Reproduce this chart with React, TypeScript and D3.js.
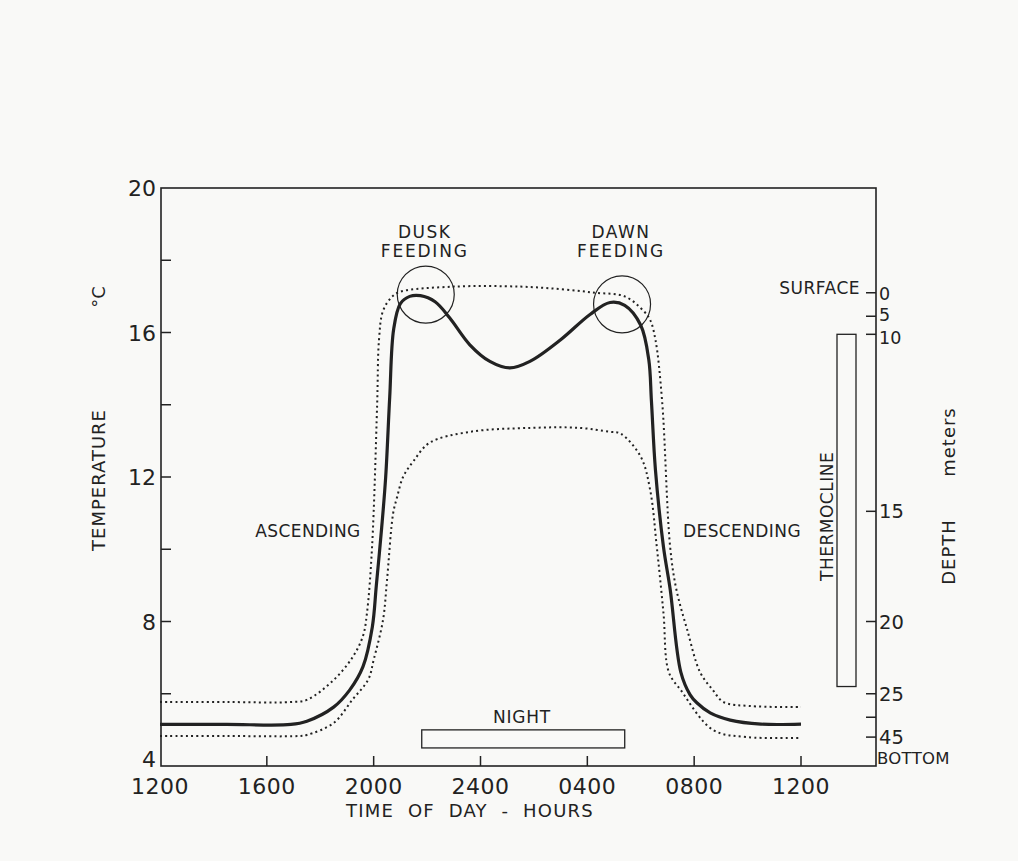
import React from "react";
import * as d3 from "d3";

// ---- data (hours counted from 12 = noon, 24 = midnight, 36 = next noon) ----
const hourTicks = [12, 16, 20, 24, 28, 32, 36];
const hourTickLabels = ["1200", "1600", "2000", "2400", "0400", "0800", "1200"];
const tempMajorTicks = [4, 8, 12, 16, 20];
const tempMinorTicks = [6, 10, 14, 18];

// depth (m) -> temperature (°C) correspondence used by the right axis
const depthValues = [0, 5, 10, 15, 20, 25, 35, 45];
const depthTemps = [17.1, 16.45, 15.95, 11.05, 8.0, 6.0, 5.35, 4.8];
const depthLabels = ["0", "5", "10", "15", "20", "25", "", "45"];
const thermocline = [10, 24.5];

// mean temperature at fish depth (solid)
const meanCurve: [number, number][] = [
  [12, 5.15], [14.5, 5.15], [16.9, 5.15], [17.5, 5.24], [18.5, 5.63], [19.1, 6.1], [19.6, 6.75],
  [19.95, 7.85], [20.1, 9.0], [20.3, 10.6], [20.45, 12.0], [20.6, 14.2], [20.75, 16.1],
  [21.0, 16.8], [21.35, 17.0], [21.75, 17.02], [22.3, 16.85], [22.85, 16.4], [23.6, 15.66],
  [24.35, 15.2], [25.1, 15.02], [25.85, 15.2], [27.0, 15.8], [28.1, 16.5], [28.85, 16.83],
  [29.4, 16.75], [30.0, 16.2], [30.3, 15.25], [30.4, 14.1], [30.55, 12.2], [30.85, 10.07],
  [31.1, 8.9], [31.5, 6.6], [31.85, 5.97], [32.1, 5.75], [32.6, 5.47], [33.35, 5.27],
  [34.5, 5.16], [36, 5.16],
];

// warm envelope (upper dotted)
const warmEdge: [number, number][] = [
  [12, 5.77], [14.5, 5.77], [16.9, 5.77], [17.5, 5.83], [18.5, 6.38], [19.2, 7.0], [19.6, 7.6],
  [19.75, 8.24], [19.94, 10.07], [20.13, 14.0], [20.2, 15.8], [20.35, 16.6], [20.7, 17.0],
  [21.0, 17.13], [23.0, 17.27], [25.5, 17.27], [27.0, 17.2], [28.3, 17.1], [29.4, 17.0],
  [30.1, 16.6], [30.35, 16.35], [30.55, 15.8], [30.8, 14.1], [31.1, 10.07], [31.33, 8.9],
  [31.74, 7.77], [32.22, 6.6], [32.7, 6.1], [33.1, 5.77], [34.1, 5.66], [36, 5.63],
];

// cold envelope (lower dotted)
const coldEdge: [number, number][] = [
  [12, 4.83], [14.5, 4.83], [17.2, 4.83], [17.5, 4.86], [18.5, 5.19], [19.2, 5.83], [19.8, 6.4],
  [20.0, 6.94], [20.35, 8.04], [20.5, 9.15], [20.73, 11.0], [20.88, 11.45], [21.1, 12.0],
  [21.5, 12.45], [22.1, 12.95], [23.6, 13.25], [25.9, 13.36], [27.7, 13.36], [28.85, 13.25],
  [29.25, 13.2], [30.0, 12.56], [30.35, 11.65], [30.6, 10.07], [30.85, 8.24], [31.05, 6.6],
  [31.5, 6.1], [32.7, 5.0], [34.0, 4.8], [36, 4.78],
];

const feedingPoints = [
  { label: ["DUSK", "FEEDING"], hour: 21.95, temp: 17.05 },
  { label: ["DAWN", "FEEDING"], hour: 29.3, temp: 16.78 },
];
const nightSpan = [21.8, 29.4];
const nightTemps = [4.5, 5.0];

// ---- layout ----
const W = 1018;
const H = 861;
const frameLeft = 161;
const frameRight = 876;
const frameTop = 188;
const frameBottom = 766;
const ink = "#222";
const font = "'DejaVu Sans', 'Liberation Sans', sans-serif";
const depthLabelShift = [7, 5, 10, 7, 7, 7, 7, 7];

export default function App() {
  const x = d3.scaleLinear().domain([12, 36]).range([160, 801]);
  const y = d3.scaleLinear().domain([4, 20]).range([frameBottom, frameTop]);
  const depthY = d3
    .scaleLinear()
    .domain(depthValues)
    .range(depthTemps.map((t) => y(t)));

  const line = d3
    .line<[number, number]>()
    .x((d) => x(d[0]))
    .y((d) => y(d[1]))
    .curve(d3.curveCatmullRom.alpha(0.5));

  const tick = 10;

  return (
    <svg
      width={W}
      height={H}
      style={{ position: "absolute", left: 0, top: 0, display: "block", background: "#f9f9f7" }}
      fontFamily={font}
    >
      {/* frame */}
      <rect
        x={frameLeft}
        y={frameTop}
        width={frameRight - frameLeft}
        height={frameBottom - frameTop}
        fill="none"
        stroke={ink}
        strokeWidth={1.6}
      />

      {/* left axis ticks */}
      {tempMajorTicks.map((t) => (
        <g key={"tm" + t}>
          {t !== 4 && t !== 20 && (
            <line x1={frameLeft} x2={frameLeft + tick} y1={y(t)} y2={y(t)} stroke={ink} strokeWidth={1.5} />
          )}
          <text
            x={frameLeft - 5}
            y={t === 4 ? y(t) + 1 : y(t) + 8}
            textAnchor="end"
            fontSize={22}
            fill={ink}
          >
            {t}
          </text>
        </g>
      ))}
      {tempMinorTicks.map((t) => (
        <line key={"tn" + t} x1={frameLeft} x2={frameLeft + tick} y1={y(t)} y2={y(t)} stroke={ink} strokeWidth={1.5} />
      ))}

      {/* bottom axis ticks */}
      {hourTicks.map((h, i) => (
        <g key={"h" + h}>
          {i > 0 && (
            <line x1={x(h)} x2={x(h)} y1={frameBottom} y2={frameBottom - tick} stroke={ink} strokeWidth={1.5} />
          )}
          <text x={x(h)} y={frameBottom + 28} textAnchor="middle" fontSize={22} fill={ink} letterSpacing={0.5}>
            {hourTickLabels[i]}
          </text>
        </g>
      ))}

      {/* right depth axis */}
      {depthValues.map((d, i) => (
        <g key={"d" + d}>
          <line
            x1={frameRight}
            x2={frameRight - tick}
            y1={depthY(d)}
            y2={depthY(d)}
            stroke={ink}
            strokeWidth={1.5}
          />
          {depthLabels[i] && (
            <text x={frameRight + 3} y={depthY(d) + depthLabelShift[i]} fontSize={i < 3 ? 17.5 : 19.5} fill={ink}>
              {depthLabels[i]}
            </text>
          )}
        </g>
      ))}
      <text x={frameRight - 16} y={depthY(0) + 1} textAnchor="end" fontSize={17} fill={ink} letterSpacing={0.5}>
        SURFACE
      </text>
      <text x={frameRight + 1} y={frameBottom - 2} fontSize={16.5} fill={ink} letterSpacing={0.3}>
        BOTTOM
      </text>

      {/* thermocline bar */}
      <rect
        x={837}
        y={depthY(thermocline[0])}
        width={19}
        height={depthY(thermocline[1]) - depthY(thermocline[0])}
        fill="none"
        stroke={ink}
        strokeWidth={1.3}
      />
      <text
        transform={`translate(833, ${(depthY(thermocline[0]) + depthY(thermocline[1])) / 2 + 6}) rotate(-90)`}
        textAnchor="middle"
        fontSize={17}
        fill={ink}
        letterSpacing={0.5}
      >
        THERMOCLINE
      </text>

      {/* axis titles */}
      <text transform="translate(105, 480) rotate(-90)" textAnchor="middle" fontSize={18} fill={ink} letterSpacing={1}>
        TEMPERATURE
      </text>
      <text transform="translate(105, 297) rotate(-90)" textAnchor="middle" fontSize={18} fill={ink}>
        °C
      </text>
      <text transform="translate(955, 552) rotate(-90)" textAnchor="middle" fontSize={18} fill={ink} letterSpacing={1}>
        DEPTH
      </text>
      <text transform="translate(955, 442) rotate(-90)" textAnchor="middle" fontSize={18} fill={ink} letterSpacing={1}>
        meters
      </text>
      <text x={470} y={817} textAnchor="middle" fontSize={18} fill={ink} letterSpacing={1.2} xmlSpace="preserve">
        TIME  OF  DAY  -  HOURS
      </text>

      {/* curves */}
      <path d={line(warmEdge) ?? ""} fill="none" stroke={ink} strokeWidth={2} strokeDasharray="2 3.2" />
      <path d={line(coldEdge) ?? ""} fill="none" stroke={ink} strokeWidth={2} strokeDasharray="2 3.2" />
      <path d={line(meanCurve) ?? ""} fill="none" stroke={ink} strokeWidth={3.2} />

      {/* feeding circles and labels */}
      {feedingPoints.map((p) => (
        <g key={p.label[0]}>
          <circle cx={x(p.hour)} cy={y(p.temp)} r={28.5} fill="none" stroke={ink} strokeWidth={1.2} />
          <text x={x(p.hour) - 1} y={238} textAnchor="middle" fontSize={17} fill={ink} letterSpacing={1.5}>
            {p.label[0]}
          </text>
          <text x={x(p.hour) - 1} y={257} textAnchor="middle" fontSize={17} fill={ink} letterSpacing={1.8}>
            {p.label[1]}
          </text>
        </g>
      ))}

      {/* phase labels */}
      <text x={308} y={537} textAnchor="middle" fontSize={17} fill={ink} letterSpacing={0.4}>
        ASCENDING
      </text>
      <text x={742} y={537} textAnchor="middle" fontSize={17} fill={ink} letterSpacing={0.4}>
        DESCENDING
      </text>

      {/* night bar */}
      <rect
        x={x(nightSpan[0])}
        y={y(nightTemps[1])}
        width={x(nightSpan[1]) - x(nightSpan[0])}
        height={y(nightTemps[0]) - y(nightTemps[1])}
        fill="none"
        stroke={ink}
        strokeWidth={1.3}
      />
      <text x={522} y={723} textAnchor="middle" fontSize={17} fill={ink} letterSpacing={0.8}>
        NIGHT
      </text>
    </svg>
  );
}
